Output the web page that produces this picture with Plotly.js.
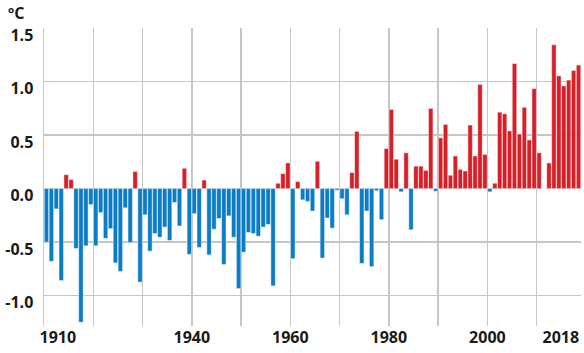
<!DOCTYPE html>
<html>
<head>
<meta charset="utf-8">
<script src="https://cdn.plot.ly/plotly-3.0.1.min.js"></script>
<style>
  html, body { margin: 0; padding: 0; background: #ffffff; }
  #chart { width: 584px; height: 353px; }
</style>
</head>
<body>
<div id="chart"></div>
<script>
// Years (categories)
var years = [
  1910,1911,1912,1913,1914,1915,1916,1917,1918,1919,
  1920,1921,1922,1923,1924,1925,1926,1927,1928,1929,
  1930,1931,1932,1933,1934,1935,1936,1937,1938,1939,
  1940,1941,1942,1943,1944,1945,1946,1947,1948,1949,
  1950,1951,1952,1953,1954,1955,1956,1957,1958,1959,
  1960,1961,1962,1963,1964,1965,1966,1967,1968,1969,
  1970,1971,1972,1973,1974,1975,1976,1977,1978,1979,
  1980,1981,1982,1983,1984,1985,1986,1987,1988,1989,
  1990,1991,1992,1993,1994,1995,1996,1997,1998,1999,
  2000,2001,2002,2003,2004,2005,2006,2007,2008,2009,
  2010,2011,2012,2013,2014,2015,2016,2017,2018
];

// Temperature anomaly (°C)
var anomalies = [
  -0.50,-0.68,-0.19,-0.86, 0.13, 0.085,-0.56,-1.25,-0.535,-0.15,
  -0.535,-0.225,-0.465,-0.375,-0.695,-0.775,-0.18,-0.505, 0.16,-0.875,
  -0.245,-0.585,-0.42,-0.455,-0.36,-0.485,-0.13,-0.35, 0.19,-0.615,
  -0.235,-0.55, 0.08,-0.62,-0.38,-0.28,-0.71,-0.255,-0.455,-0.935,
  -0.595,-0.41,-0.42,-0.445,-0.36,-0.335,-0.91, 0.05, 0.14, 0.24,
  -0.655, 0.065,-0.105,-0.12,-0.21, 0.255,-0.65,-0.275,-0.37,-0.015,
  -0.095,-0.245, 0.15, 0.535,-0.70,-0.21,-0.73,-0.02,-0.29, 0.375,
   0.74, 0.275,-0.03, 0.335,-0.385, 0.21, 0.21, 0.17, 0.75,-0.025,
   0.475, 0.60, 0.125, 0.305, 0.18, 0.165, 0.595, 0.305, 0.975, 0.32,
  -0.03, 0.05, 0.715, 0.70, 0.54, 1.17, 0.51, 0.76, 0.455, 0.935,
   0.335, 0.0, 0.24, 1.345, 1.055, 0.96, 1.015, 1.105, 1.155
];

// Axis tick labels
var xTickLabels = ['1910', '1940', '1960', '1980', '2000', '2018'];
var yTickValues = [-1.0, -0.5, 0.0, 0.5, 1.0, 1.5];
var unitLabel = 'ºC';

// ---- presentation ----
var RED = '#d71f28';
var BLUE = '#0b7dc6';
var barColors = anomalies.map(function (v) { return v >= 0 ? RED : BLUE; });

// label placement along the category axis (first and last labels are kept inside the plot)
var xTickPositions = [1912.3, 1939.5, 1959.5, 1979.5, 1999.5, 2014.4];
var yTickText = yTickValues.map(function (v) { return v.toFixed(1); });

var GRID = '#c6c6c6';
var labelFont = { family: 'Open Sans, sans-serif', size: 16, color: '#1a1a1a', weight: 700 };

var trace = {
  type: 'bar',
  x: years,
  y: anomalies,
  marker: {
    color: barColors,
    line: { color: 'rgba(255,255,255,0.45)', width: 1 }
  },
  hoverinfo: 'x+y'
};

var layout = {
  width: 584,
  height: 353,
  margin: { l: 44, r: 3, t: 28, b: 27, pad: 0 },
  paper_bgcolor: '#ffffff',
  plot_bgcolor: '#ffffff',
  showlegend: false,
  bargap: 0.1,
  xaxis: {
    type: 'linear',
    range: [1909.5, 2018.5],
    showgrid: false,
    zeroline: false,
    showline: false,
    ticks: '',
    tickmode: 'array',
    tickvals: xTickPositions,
    ticktext: xTickLabels,
    tickfont: labelFont,
    minor: {
      tickmode: 'linear',
      tick0: 1909.5,
      dtick: 10,
      showgrid: true,
      gridcolor: GRID,
      gridwidth: 1.5,
      ticks: ''
    }
  },
  yaxis: {
    range: [-1.285, 1.502],
    tickmode: 'array',
    tickvals: yTickValues,
    ticktext: yTickText,
    tickfont: labelFont,
    showgrid: true,
    gridcolor: GRID,
    gridwidth: 1.5,
    zeroline: false,
    showline: true,
    linecolor: GRID,
    linewidth: 1.5,
    ticks: '',
    ticklabelstandoff: 6,
    ticklabelshift: 7
  },
  annotations: [{
    text: unitLabel,
    xref: 'paper', yref: 'paper',
    x: 0, y: 1,
    xanchor: 'left', yanchor: 'bottom',
    xshift: -38, yshift: 2,
    showarrow: false,
    font: labelFont
  }]
};

Plotly.newPlot('chart', [trace], layout, { displayModeBar: false, staticPlot: true });
</script>
</body>
</html>
